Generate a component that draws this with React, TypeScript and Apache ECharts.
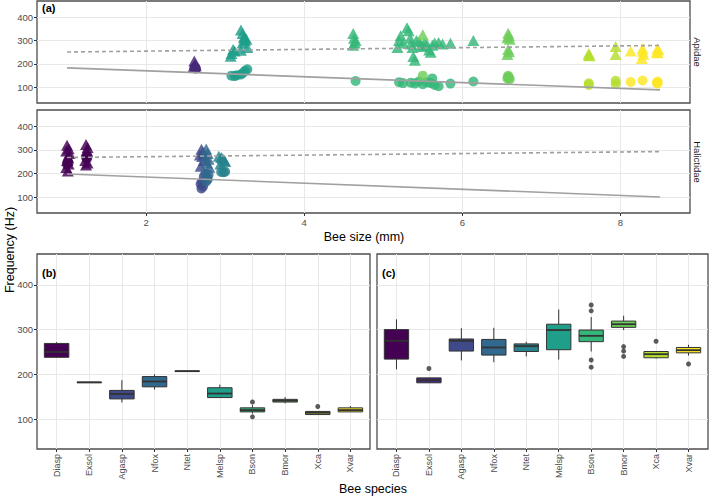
import React, { useEffect, useRef } from "react";
import * as echarts from "echarts";

const FONT = "Liberation Sans, Arial, Helvetica, sans-serif";

const species = ["Diasp", "Exsol", "Agasp", "Nfox", "Ntet", "Melsp", "Bson", "Bmor", "Xca", "Xvar"];
const speciesColors = ["#440154", "#482878", "#3E4A89", "#31688E", "#26828E", "#1F9E89", "#35B779", "#6DCD59", "#B4DE2C", "#FDE725"];
const freqTicks = [100, 200, 300, 400];
const sizeTicks = [2, 4, 6, 8];
const speciesTicks = [1, 2, 3, 4, 5, 6, 7, 8, 9, 10];

// ---- Panel (a): individual bees, [body size (mm), frequency (Hz)] ----
// Halictidae
const sonDiasp = [[1.0, 320], [1.02, 305], [0.99, 295], [1.03, 285], [1.01, 270], [1.0, 255], [1.02, 240], [0.99, 226], [1.01, 211], [1.24, 323], [1.26, 310], [1.25, 296], [1.23, 255], [1.26, 245], [1.24, 236]];
const flyDiasp = [[1.0, 238], [1.02, 245], [1.01, 250], [1.25, 262], [1.24, 270], [1.26, 272]];
const sonAgasp = [[2.7, 303], [2.72, 290], [2.68, 278], [2.71, 272], [2.73, 255], [2.69, 231]];
const flyAgasp = [[2.7, 137], [2.72, 145], [2.69, 156], [2.71, 164], [2.73, 187]];
const sonNfox = [[2.76, 304], [2.78, 285], [2.75, 270], [2.79, 260], [2.77, 245], [2.8, 227]];
const flyNfox = [[2.76, 166], [2.78, 175], [2.77, 184], [2.79, 195], [2.75, 200]];
const sonNtet = [[2.92, 273], [2.95, 268], [2.97, 263], [2.99, 255], [3.0, 251], [2.94, 240]];
const flyNtet = [[2.95, 207], [2.98, 206], [3.0, 208]];
// Apidae
const sonExsol = [[2.61, 213], [2.62, 200], [2.63, 192], [2.6, 188], [2.62, 185]];
const flyExsol = [[2.61, 182], [2.62, 183], [2.63, 181]];
const sonMelsp = [[3.08, 245], [3.07, 233], [3.1, 262], [3.12, 255], [3.2, 345], [3.22, 330], [3.24, 315], [3.25, 300], [3.27, 305], [3.22, 290], [3.28, 270], [3.2, 258], [3.24, 312]];
const flyMelsp = [[3.08, 150], [3.12, 148], [3.2, 155], [3.25, 170], [3.28, 177], [3.22, 160], [3.15, 152]];
const sonBson = [[4.62, 330], [4.63, 310], [4.64, 290], [4.62, 280], [4.65, 300], [5.18, 270], [5.2, 300], [5.22, 320], [5.25, 290], [5.3, 355], [5.32, 342], [5.34, 310], [5.35, 285], [5.37, 270], [5.38, 232], [5.4, 216], [5.42, 300], [5.45, 295], [5.48, 280], [5.5, 275], [5.52, 290], [5.55, 285], [5.58, 260], [5.6, 250], [5.62, 280], [5.65, 290], [5.7, 292], [5.75, 285], [5.85, 288], [6.14, 300]];
const flyBson = [[4.65, 127], [5.2, 122], [5.25, 118], [5.35, 120], [5.4, 116], [5.45, 125], [5.5, 113], [5.55, 122], [5.6, 118], [5.62, 138], [5.65, 110], [5.7, 105], [5.85, 116], [6.14, 125]];
const sonBmor = [[5.5, 325], [6.58, 331], [6.59, 320], [6.57, 312], [6.6, 305], [6.58, 262], [6.59, 252], [6.57, 240]];
const flyBmor = [[5.5, 150], [6.58, 144], [6.59, 141], [6.57, 138], [6.6, 135], [6.58, 149]];
const sonXca = [[7.6, 245], [7.94, 274], [7.6, 237], [7.94, 240], [7.61, 235]];
const flyXca = [[7.6, 117], [7.94, 128], [7.6, 110], [7.94, 114]];
const sonXvar = [[8.13, 255], [8.28, 266], [8.28, 254], [8.29, 240], [8.27, 223], [8.47, 266], [8.48, 260], [8.46, 250], [8.47, 248]];
const flyXvar = [[8.13, 123], [8.28, 129], [8.47, 116], [8.47, 125], [8.46, 120]];

// fitted lines [size, Hz]
const apidaeSonFit = [[1.0, 251], [8.5, 279]];
const apidaeFlyFit = [[1.0, 183], [8.5, 89]];
const halicSonFit = [[1.0, 268], [8.5, 293]];
const halicFlyFit = [[1.0, 198], [8.5, 101]];

// ---- Panel (b): flight buzz, box stats [min, Q1, median, Q3, max] ----
const flightStats = [
  [238, 238, 250, 269, 272],
  [181.5, 181.5, 182, 182.5, 182.5],
  [137, 145, 156, 164, 187],
  [166, 172, 184, 195, 200],
  [206.5, 206.5, 207, 207.5, 207.5],
  [148, 148, 157, 170, 177],
  [112, 116, 120, 125, 131],
  [135, 138, 141, 144, 149],
  [110, 110, 114, 117, 117],
  [116, 116, 120, 125, 129],
];
const flightOutliers = [[7, 138], [7, 105], [9, 128]];

// ---- Panel (c): sonication buzz ----
const sonStats = [
  [211, 234, 275, 300, 323],
  [181, 181, 187, 192, 192],
  [231, 252, 275, 279, 303],
  [227, 243, 260, 278, 304],
  [240, 251, 263, 268, 273],
  [233, 255, 299, 312, 345],
  [251, 273, 286, 299, 328],
  [299, 305, 312, 319, 331],
  [235, 237, 245, 251, 251],
  [242, 248, 254, 260, 266],
];
const sonOutliers = [[2, 213], [7, 355], [7, 342], [7, 232], [7, 216], [8, 262], [8, 252], [8, 240], [9, 274], [10, 223]];

const halictidaeSet: [number, number[][], number[][]][] = [
  [0, sonDiasp, flyDiasp],
  [2, sonAgasp, flyAgasp],
  [3, sonNfox, flyNfox],
  [4, sonNtet, flyNtet],
];
const apidaeSet: [number, number[][], number[][]][] = [
  [1, sonExsol, flyExsol],
  [5, sonMelsp, flyMelsp],
  [6, sonBson, flyBson],
  [7, sonBmor, flyBmor],
  [8, sonXca, flyXca],
  [9, sonXvar, flyXvar],
];

const GRID_LINE = "#E8E8E8";
const TICK_COLOR = "#333333";
const LABEL_COLOR = "#4D4D4D";

function yAxisCfg(gridIndex: number, showLabels: boolean) {
  return {
    type: "value",
    gridIndex,
    min: 33,
    max: 469,
    axisLine: { show: false },
    axisTick: { show: showLabels, length: 3, lineStyle: { color: TICK_COLOR }, customValues: freqTicks },
    axisLabel: { show: showLabels, color: LABEL_COLOR, fontSize: 9.5, fontFamily: FONT, margin: 4, customValues: freqTicks },
    splitLine: { show: true, lineStyle: { color: GRID_LINE, width: 1 } },
  };
}

function boxRenderer(colors: string[]) {
  return (params: any, api: any) => {
    const x = api.value(0);
    const mn = api.value(1), q1 = api.value(2), md = api.value(3), q3 = api.value(4), mx = api.value(5);
    const hw = 0.375;
    const pTL = api.coord([x - hw, q3]);
    const pBR = api.coord([x + hw, q1]);
    const pMin = api.coord([x, mn]);
    const pMax = api.coord([x, mx]);
    const pQ1 = api.coord([x, q1]);
    const pQ3 = api.coord([x, q3]);
    const pML = api.coord([x - hw, md]);
    const pMR = api.coord([x + hw, md]);
    const st = { stroke: "#333333", lineWidth: 1 };
    return {
      type: "group",
      children: [
        { type: "line", shape: { x1: pMax[0], y1: pMax[1], x2: pQ3[0], y2: pQ3[1] }, style: st },
        { type: "line", shape: { x1: pQ1[0], y1: pQ1[1], x2: pMin[0], y2: pMin[1] }, style: st },
        {
          type: "rect",
          shape: { x: pTL[0], y: pTL[1], width: pBR[0] - pTL[0], height: Math.max(pBR[1] - pTL[1], 0.5) },
          style: { fill: colors[params.dataIndex], stroke: "#333333", lineWidth: 1 },
        },
        { type: "line", shape: { x1: pML[0], y1: pML[1], x2: pMR[0], y2: pMR[1] }, style: { stroke: "#333333", lineWidth: 1.8 } },
      ],
    };
  };
}

function scatterSeries(set: [number, number[][], number[][]][], idx: number) {
  const out: any[] = [];
  set.forEach(([sp, son]) => {
    out.push({
      type: "scatter",
      xAxisIndex: idx,
      yAxisIndex: idx,
      data: son,
      symbol: "triangle",
      symbolSize: [12, 11],
      itemStyle: { color: speciesColors[sp], opacity: 0.82 },
      z: 2,
    });
  });
  set.forEach(([sp, , fly]) => {
    out.push({
      type: "scatter",
      xAxisIndex: idx,
      yAxisIndex: idx,
      data: fly,
      symbol: "circle",
      symbolSize: 10,
      itemStyle: { color: speciesColors[sp], opacity: 0.82 },
      z: 3,
    });
  });
  return out;
}

function fitLine(data: number[][], idx: number, dashed: boolean) {
  return {
    type: "line",
    xAxisIndex: idx,
    yAxisIndex: idx,
    data,
    showSymbol: false,
    symbol: "none",
    silent: true,
    lineStyle: { color: "#A0A0A0", width: 1.6, type: dashed ? [4, 3] : "solid" },
    z: 5,
  };
}

function txt(text: string, x: number, y: number, opts: any = {}) {
  return {
    type: "text",
    x,
    y,
    rotation: opts.rotation || 0,
    style: {
      text,
      fill: opts.fill || "#000000",
      fontSize: opts.fontSize || 11,
      fontWeight: opts.fontWeight || "normal",
      fontFamily: FONT,
      align: opts.align || "center",
      textAlign: opts.align || "center",
      verticalAlign: "middle",
      textVerticalAlign: "middle",
    },
  };
}

export default function App() {
  const ref = useRef<HTMLDivElement>(null);
  useEffect(() => {
    if (!ref.current) return;
    const chart = echarts.init(ref.current, undefined, { renderer: "svg" });
    const gridBorder = { show: true, borderColor: "#4D4D4D", borderWidth: 1.3, backgroundColor: "transparent" };
    const option: any = {
      animation: false,
      backgroundColor: "#FFFFFF",
      textStyle: { fontFamily: FONT },
      grid: [
        { left: 37, top: 1, width: 653, height: 102, ...gridBorder },
        { left: 37, top: 110, width: 653, height: 103, ...gridBorder },
        { left: 37, top: 254, width: 333, height: 195, ...gridBorder },
        { left: 377, top: 254, width: 331, height: 195, ...gridBorder },
      ],
      xAxis: [
        {
          type: "value", gridIndex: 0, min: 0.62, max: 8.88,
          axisLine: { show: false },
          axisTick: { show: false, customValues: sizeTicks },
          axisLabel: { show: false, customValues: sizeTicks },
          splitLine: { show: true, lineStyle: { color: GRID_LINE } },
        },
        {
          type: "value", gridIndex: 1, min: 0.62, max: 8.88,
          axisLine: { show: false },
          axisTick: { show: true, length: 3, lineStyle: { color: TICK_COLOR }, customValues: sizeTicks },
          axisLabel: { show: true, color: LABEL_COLOR, fontSize: 9.5, fontFamily: FONT, margin: 4, customValues: sizeTicks },
          splitLine: { show: true, lineStyle: { color: GRID_LINE } },
        },
        {
          type: "value", gridIndex: 2, min: 0.4, max: 10.6,
          axisLine: { show: false },
          axisTick: { show: true, length: 3, lineStyle: { color: TICK_COLOR }, customValues: speciesTicks },
          axisLabel: {
            show: true, color: LABEL_COLOR, fontSize: 9, fontFamily: FONT, margin: 5, rotate: 90,
            customValues: speciesTicks, formatter: (v: number) => species[Math.round(v) - 1] || "",
          },
          splitLine: { show: true, lineStyle: { color: GRID_LINE } },
        },
        {
          type: "value", gridIndex: 3, min: 0.4, max: 10.6,
          axisLine: { show: false },
          axisTick: { show: true, length: 3, lineStyle: { color: TICK_COLOR }, customValues: speciesTicks },
          axisLabel: {
            show: true, color: LABEL_COLOR, fontSize: 9, fontFamily: FONT, margin: 5, rotate: 90,
            customValues: speciesTicks, formatter: (v: number) => species[Math.round(v) - 1] || "",
          },
          splitLine: { show: true, lineStyle: { color: GRID_LINE } },
        },
      ],
      yAxis: [yAxisCfg(0, true), yAxisCfg(1, true), yAxisCfg(2, true), yAxisCfg(3, false)],
      series: [
        ...scatterSeries(apidaeSet, 0),
        ...scatterSeries(halictidaeSet, 1),
        fitLine(apidaeSonFit, 0, true),
        fitLine(apidaeFlyFit, 0, false),
        fitLine(halicSonFit, 1, true),
        fitLine(halicFlyFit, 1, false),
        {
          type: "custom",
          xAxisIndex: 2,
          yAxisIndex: 2,
          renderItem: boxRenderer(speciesColors),
          encode: { x: 0, y: [1, 2, 3, 4, 5] },
          data: flightStats.map((s, i) => [i + 1, ...s]),
          z: 2,
        },
        {
          type: "scatter", xAxisIndex: 2, yAxisIndex: 2, data: flightOutliers,
          symbol: "circle", symbolSize: 5, itemStyle: { color: "#333333" }, z: 3,
        },
        {
          type: "custom",
          xAxisIndex: 3,
          yAxisIndex: 3,
          renderItem: boxRenderer(speciesColors),
          encode: { x: 0, y: [1, 2, 3, 4, 5] },
          data: sonStats.map((s, i) => [i + 1, ...s]),
          z: 2,
        },
        {
          type: "scatter", xAxisIndex: 3, yAxisIndex: 3, data: sonOutliers,
          symbol: "circle", symbolSize: 5, itemStyle: { color: "#333333" }, z: 3,
        },
      ],
      graphic: [
        txt("(a)", 42, 8, { fontWeight: "bold", align: "left", fontSize: 11 }),
        txt("(b)", 42, 273, { fontWeight: "bold", align: "left", fontSize: 11 }),
        txt("(c)", 382, 273, { fontWeight: "bold", align: "left", fontSize: 11 }),
        txt("Apidae", 697, 52, { rotation: -Math.PI / 2, fontSize: 9.5, fill: "#1A1A1A" }),
        txt("Halictidae", 697, 162, { rotation: -Math.PI / 2, fontSize: 9.5, fill: "#1A1A1A" }),
        txt("Bee size (mm)", 364, 237, { fontSize: 12.5 }),
        txt("Bee species", 373, 489, { fontSize: 12.5 }),
        txt("Frequency (Hz)", 10, 250, { rotation: Math.PI / 2, fontSize: 12.5 }),
      ],
    };
    chart.setOption(option);
    return () => chart.dispose();
  }, []);
  return (
    <div
      ref={ref}
      style={{ position: "fixed", left: 0, top: 0, width: 709, height: 496, background: "#fff" }}
    />
  );
}
